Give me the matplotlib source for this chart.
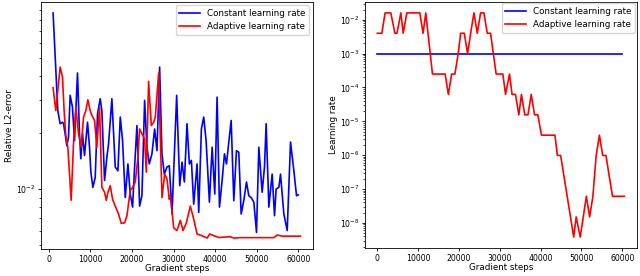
import matplotlib
matplotlib.use("Agg")
import matplotlib.pyplot as plt

# ---- Left panel: relative L2 error ----
const_err_steps = [1000, 2140, 2700, 3260, 3500, 3900, 4310, 4710, 5110, 5670, 6160, 6880, 7360,
                   7680, 8080, 8570, 9290, 9770, 10090, 10580, 11140, 11700, 12340, 12740, 13390,
                   13950, 14350, 15150, 15960, 16600, 17170, 17720, 18370, 19010, 19570, 20130,
                   20620, 21180, 21820, 22380, 23030, 23590, 24150, 24790, 25440, 26000, 26640,
                   27200, 27770, 28410, 28970, 29620, 30740, 31480, 32030, 32590, 33230, 33790,
                   34280, 34840, 35650, 36050, 36690, 37250, 37820, 38620, 39270, 39910, 40470,
                   41040, 41680, 42240, 42720, 43850, 44490, 45130, 45690, 46260, 46900, 47540,
                   48100, 48660, 49310, 49950, 50510, 51310, 51870, 52270, 52920, 53720, 54280,
                   54680, 55330, 55730, 56530, 57340, 58140, 58940, 59580, 60000]
const_err = [0.0869, 0.0262, 0.0223, 0.0227, 0.0224, 0.0197, 0.0170, 0.0189, 0.0316, 0.0273,
             0.0181, 0.0416, 0.0197, 0.0145, 0.0197, 0.0151, 0.0227, 0.0167, 0.0123, 0.0102,
             0.0115, 0.0252, 0.0303, 0.0262, 0.0111, 0.0148, 0.0174, 0.0303, 0.0131, 0.0125,
             0.0242, 0.0181, 0.0090, 0.0136, 0.0094, 0.0080, 0.0131, 0.0218, 0.0081, 0.0092,
             0.0297, 0.0167, 0.0136, 0.0154, 0.0209, 0.0160, 0.0447, 0.0154, 0.0120, 0.0131,
             0.0133, 0.00735, 0.0316, 0.0104, 0.0139, 0.0109, 0.0223, 0.0136, 0.0142, 0.0083,
             0.0136, 0.0075, 0.0209, 0.0242, 0.0181, 0.0085, 0.0167, 0.0094, 0.0309, 0.0080,
             0.0111, 0.0154, 0.0136, 0.0232, 0.00866, 0.0160, 0.0157, 0.00735, 0.0087, 0.0109,
             0.0092, 0.0090, 0.0085, 0.00586, 0.0167, 0.0096, 0.0131, 0.0223, 0.0080, 0.0120,
             0.0072, 0.0100, 0.0102, 0.0120, 0.00735, 0.0060, 0.0178, 0.0125, 0.0092, 0.0093]

adapt_err_steps = [1000, 1660, 2700, 3260, 3660, 4060, 4550, 5350, 5910, 6480, 7120, 7760, 8330,
                   8890, 9370, 9930, 10330, 10980, 11530, 12180, 12740, 13390, 13790, 14190,
                   14750, 15320, 15960, 16760, 17410, 18210, 18770, 19570, 20130, 20780, 21340,
                   21820, 22380, 23030, 23430, 23990, 24640, 25200, 25600, 26400, 27200, 27850,
                   28410, 28970, 29250, 30020, 30820, 31620, 32270, 33070, 34030, 34840, 35650,
                   36850, 38060, 38700, 39670, 40870, 43680, 44490, 46100, 54130, 54930, 56130,
                   60500]
adapt_err = [0.0347, 0.0262, 0.0447, 0.0396, 0.0262, 0.0193, 0.0167, 0.0087, 0.0174, 0.0273,
             0.0197, 0.0167, 0.0242, 0.0262, 0.0299, 0.0262, 0.0247, 0.0232, 0.0167, 0.0273,
             0.0102, 0.0096, 0.0087, 0.0096, 0.0104, 0.0088, 0.0081, 0.00735, 0.00655, 0.0066,
             0.0072, 0.0098, 0.0102, 0.0109, 0.0142, 0.0209, 0.0197, 0.0185, 0.0123, 0.0375,
             0.0218, 0.0227, 0.0242, 0.0416, 0.0090, 0.0120, 0.0113, 0.0088, 0.0092, 0.0062,
             0.0060, 0.0068, 0.0060, 0.0066, 0.0081, 0.0069, 0.00575, 0.00563, 0.00547, 0.00575,
             0.00563, 0.00551, 0.00556, 0.00547, 0.0055, 0.0055, 0.00568, 0.0056, 0.0056]

# ---- Right panel: learning rate ----
const_lr_steps = [0, 60000]
const_lr = [1e-3, 1e-3]

adapt_lr_steps = [0, 1100, 1900, 3300, 4300, 4800, 5760, 6330, 7220, 10400, 11200, 11860, 13500,
                  16600, 17400, 18200, 19000, 19800, 20400, 21300, 22100, 22850, 23660, 24480,
                  25290, 26100, 26920, 27730, 29100, 30740, 31400, 32370, 33000, 33840, 34660,
                  35300, 36100, 36900, 37700, 38500, 39300, 40200, 43500, 44100, 44900, 48100,
                  48700, 49700, 51200, 52000, 52800, 53600, 54400, 55200, 56000, 56800, 57600,
                  60500]
adapt_lr = [4e-3, 4e-3, 1.6e-2, 1.6e-2, 4e-3, 4e-3, 1.6e-2, 4e-3, 1.6e-2, 1.6e-2, 4e-3, 1.6e-2,
            2.5e-4, 2.5e-4, 6.25e-5, 2.5e-4, 2.5e-4, 1e-3, 4e-3, 4e-3, 1e-3, 4e-3, 1.6e-2, 4e-3,
            1.6e-2, 1.6e-2, 4e-3, 4e-3, 2.5e-4, 2.5e-4, 6.25e-5, 2.5e-4, 6.25e-5, 6.25e-5,
            1.56e-5, 6.25e-5, 1.56e-5, 1.56e-5, 6.25e-5, 1.56e-5, 1.56e-5, 3.9e-6, 3.9e-6,
            9.8e-7, 9.8e-7, 3.8e-9, 1.5e-8, 3.8e-9, 6.1e-8, 1.5e-8, 6.1e-8, 9.8e-7, 3.9e-6,
            9.8e-7, 9.8e-7, 2.4e-7, 6.1e-8, 6.1e-8]

labels = ["Constant learning rate", "Adaptive learning rate"]
xticks = [0, 10000, 20000, 30000, 40000, 50000, 60000]

fs = 6.3
plt.rcParams.update({
    "font.size": fs,
    "axes.linewidth": 0.6,
    "xtick.major.size": 2.0, "ytick.major.size": 2.0,
    "xtick.minor.size": 1.2, "ytick.minor.size": 1.2,
    "xtick.major.width": 0.6, "ytick.major.width": 0.6,
    "xtick.minor.width": 0.5, "ytick.minor.width": 0.5,
    "xtick.major.pad": 2, "ytick.major.pad": 2,
    "xtick.labelsize": 5.6, "ytick.labelsize": 5.6,
})

fig = plt.figure(figsize=(6.4, 2.76), dpi=100)
ax1 = fig.add_axes([0.0636, 0.0967, 0.425, 0.897])
ax2 = fig.add_axes([0.5703, 0.1004, 0.4245, 0.8935])

lw = 1.2
ax1.plot(const_err_steps, const_err, color="blue", lw=lw, label=labels[0])
ax1.plot(adapt_err_steps, adapt_err, color="red", lw=lw, label=labels[1])
ax1.set_yscale("log")
ax1.set_xticks(xticks)
ax1.set_xlabel("Gradient steps", labelpad=0)
ax1.set_ylabel("Relative L2-error", labelpad=1)
ax1.legend(loc="upper right", fontsize=fs, borderaxespad=0.4, handlelength=2.4)

ax2.plot(const_lr_steps, const_lr, color="blue", lw=lw, label=labels[0])
ax2.plot(adapt_lr_steps, adapt_lr, color="red", lw=lw, label=labels[1])
ax2.set_yscale("log")
ax2.set_xticks(xticks)
ax2.set_xlabel("Gradient steps", labelpad=0)
ax2.set_ylabel("Learning rate", labelpad=1)
ax2.legend(loc="upper right", fontsize=fs, borderaxespad=0.2, handlelength=2.4)

fig.savefig("out.png", dpi=100)
